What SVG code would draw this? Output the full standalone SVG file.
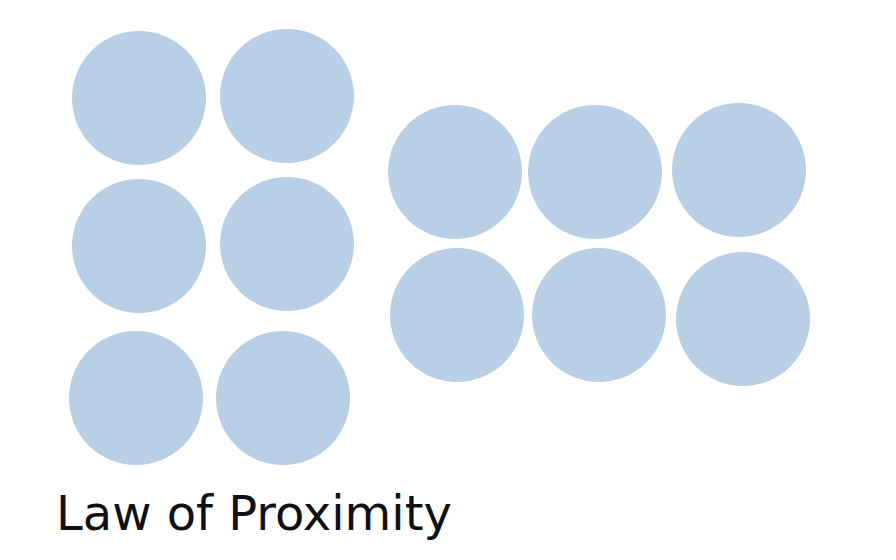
<svg xmlns="http://www.w3.org/2000/svg" width="896" height="560" viewBox="0 0 896 560">
<style>
.dot{fill:#b9cfe6}
.lbl{font-family:"DejaVu Sans",Verdana,sans-serif;font-size:48px;fill:#111}
</style>
<rect width="896" height="560" fill="#ffffff"/>
<g id="left-group">
<circle id="l1" class="dot" cx="139" cy="98" r="67"/>
<circle id="l2" class="dot" cx="287" cy="96" r="67"/>
<circle id="l3" class="dot" cx="139" cy="246" r="67"/>
<circle id="l4" class="dot" cx="287" cy="244" r="67"/>
<circle id="l5" class="dot" cx="136" cy="398" r="67"/>
<circle id="l6" class="dot" cx="283" cy="398" r="67"/>
</g>
<g id="right-group">
<circle id="r1" class="dot" cx="455" cy="172" r="67"/>
<circle id="r2" class="dot" cx="595" cy="172" r="67"/>
<circle id="r3" class="dot" cx="739" cy="170" r="67"/>
<circle id="r4" class="dot" cx="457" cy="315" r="67"/>
<circle id="r5" class="dot" cx="599" cy="315" r="67"/>
<circle id="r6" class="dot" cx="743" cy="319" r="67"/>
</g>
<g id="connectors"/>
<text id="title" class="lbl" x="56" y="530">Law of Proximity</text>
</svg>
